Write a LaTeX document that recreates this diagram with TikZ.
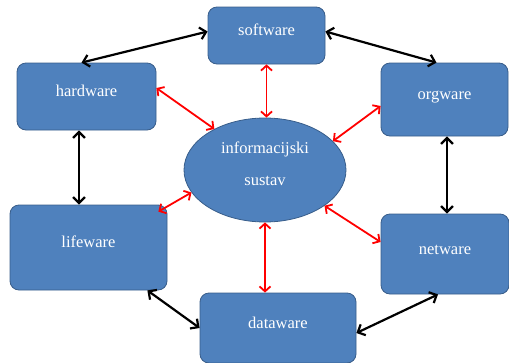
\documentclass[tikz,border=0pt]{standalone}
\usepackage{fontspec}
\setmainfont{Liberation Serif}
\usetikzlibrary{shapes.geometric,arrows.meta}
\definecolor{boxblue}{HTML}{4F81BD}
\definecolor{boxline}{HTML}{385D8A}

\begin{document}
\begin{tikzpicture}[
    x=1pt, y=-1pt,
    box/.style={draw=boxline, line width=0.8pt, rounded corners=9pt, fill=boxblue, text=white, font=\fontsize{16.5}{19}\selectfont, text height=11pt, text depth=11pt, inner sep=0pt},
    hub/.style={ellipse, draw=boxline, line width=0.8pt, fill=boxblue, text=white, font=\fontsize{16.5}{19}\selectfont, align=center, text depth=12pt, minimum width=162pt, minimum height=104pt},
    blackarrow/.style={{Straight Barb[length=6pt,width=12pt]}-{Straight Barb[length=6pt,width=12pt]}, line width=2.2pt},
    redarrow/.style={{Straight Barb[length=5pt,width=11pt]}-{Straight Barb[length=5pt,width=11pt]}, red, line width=1.8pt},
]
    \useasboundingbox (0,0) rectangle (509,362);

    % Center
    \node[hub] (info) at (265,170) {informacijski\\[13pt]sustav};

    % Boxes
    \node[box, minimum width=117pt, minimum height=57pt] (software) at (266.5,35.5) {software};
    \node[box, minimum width=139pt, minimum height=67pt] (hardware) at (86.5,96.5) {hardware};
    \node[box, minimum width=127pt, minimum height=73pt] (orgware) at (444.5,99.5) {orgware};
    \node[box, minimum width=157pt, minimum height=85pt] (lifeware) at (88.5,247.5) {lifeware};
    \node[box, minimum width=128pt, minimum height=80pt] (netware) at (445,254) {netware};
    \node[box, minimum width=156pt, minimum height=70pt] (dataware) at (278,328) {dataware};

    % Outer ring
    \draw[blackarrow] ([yshift=4pt]software.west) -- ([xshift=-5pt]hardware.north);
    \draw[blackarrow] ([yshift=4pt]software.east) -- ([xshift=-8pt]orgware.north);
    \draw[blackarrow] ([xshift=-7.5pt]hardware.south) -- ([xshift=-7.5pt]hardware.south |- lifeware.north);
    \draw[blackarrow] ([xshift=2.5pt]orgware.south) -- ([xshift=2.5pt]orgware.south |- netware.north);
    \draw[blackarrow] ([xshift=-20pt]lifeware.south east) -- (dataware.west);
    \draw[blackarrow] ([yshift=-5pt]dataware.east) -- ([xshift=-7pt]netware.south);

    % Spokes
    \draw[redarrow] (software.south) -- (software.south |- info.north);
    \draw[redarrow] ([yshift=8.5pt]hardware.east) -- (info.141);
    \draw[redarrow] ([yshift=-6.5pt]orgware.west) -- (info.23);
    \draw[redarrow] ([shift={(-9pt,-7pt)}]lifeware.north east) -- (info.197);
    \draw[redarrow] ([yshift=12pt]netware.west) -- (info.-31);
    \draw[redarrow] (info.south) -- (info.south |- dataware.north);
\end{tikzpicture}
\end{document}
